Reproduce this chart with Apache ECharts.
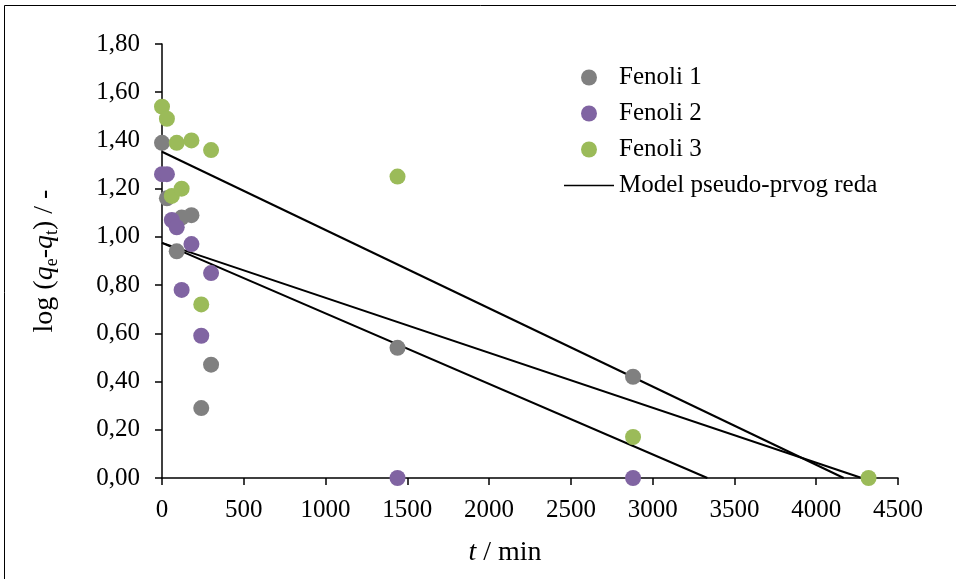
<!DOCTYPE html>
<html>
<head>
<meta charset="utf-8">
<script src="https://cdn.jsdelivr.net/npm/echarts@6/dist/echarts.min.js"></script>
<style>
  html, body { margin: 0; padding: 0; background: #fff; }
  #chart { width: 956px; height: 579px; }
</style>
</head>
<body>
<div id="chart"></div>
<script>
// Sampling times, min
const times = [0, 30, 60, 90, 120, 180, 240, 300, 1440, 2880, 4320];

// log(qe - qt) for each phenol sample (null = not measured)
const fenoli1 = [1.39, 1.16, null, 0.94, 1.08, 1.09, 0.29, 0.47, 0.54, 0.42, null];
const fenoli2 = [1.26, 1.26, 1.07, 1.04, 0.78, 0.97, 0.59, 0.85, 0.00, 0.00, null];
const fenoli3 = [1.54, 1.49, 1.17, 1.39, 1.20, 1.40, 0.72, 1.36, 1.25, 0.17, 0.00];

// Pseudo-first-order fits: log(qe - qt) = b + k*t
const modelIntercept = [1.353, 0.975, 0.975];
const modelSlope = [-3.246e-4, -2.279e-4, -2.924e-4];

const seriesNames = ['Fenoli 1', 'Fenoli 2', 'Fenoli 3'];
const modelName = 'Model pseudo-prvog reda';
const colors = ['#808080', '#8064a2', '#9bbb59'];

const xTicks = { min: 0, max: 4500, step: 500 };
const yTicks = { min: 0, max: 1.8, step: 0.2 };

const FONT = '"Liberation Serif", "DejaVu Serif", serif';

// Legend glyph for the fitted lines: a thin horizontal bar; the two bare
// move-to points keep the bar's box the full icon height so it is not stretched.
const LINE_ICON = 'path://M0,0 M0,16 M0,7.2 L50,7.2 L50,8.8 L0,8.8 Z';

function pairs(values) {
  const out = [];
  values.forEach((v, i) => { if (v !== null) out.push([times[i], v]); });
  return out;
}

const scatterSeries = [fenoli1, fenoli2, fenoli3].map((vals, i) => ({
  name: seriesNames[i],
  type: 'scatter',
  data: pairs(vals),
  symbol: 'circle',
  symbolSize: 16,
  itemStyle: { color: colors[i], opacity: 1 },
  z: 3
}));

// Each fitted line runs from t = 0 down to where it reaches zero
const modelSeries = modelIntercept.map((b, i) => ({
  name: modelName,
  type: 'line',
  data: [[0, b], [-b / modelSlope[i], 0]],
  symbol: 'none',
  showSymbol: false,
  lineStyle: { color: '#000', width: 2 },
  itemStyle: { color: '#000' },
  z: 2
}));

const chart = echarts.init(document.getElementById('chart'), null, { renderer: 'canvas' });
chart.setOption({
  animation: false,
  backgroundColor: '#fff',
  textStyle: { fontFamily: FONT },
  grid: { left: 162, right: 58, top: 44, bottom: 101, containLabel: false },
  graphic: [
    { type: 'polyline', shape: { points: [[4.5, 579], [4.5, 5.5], [956, 5.5]] },
      style: { stroke: '#000', lineWidth: 1, fill: null }, silent: true }
  ],
  legend: {
    orient: 'vertical',
    left: 559,
    top: 60,
    itemWidth: 50,
    itemHeight: 16,
    itemGap: 11,
    itemTextGap: 19,
    itemStyle: { borderWidth: 0 },
    textStyle: { fontFamily: FONT, fontSize: 25, color: '#000' },
    data: [
      { name: seriesNames[0], icon: 'circle' },
      { name: seriesNames[1], icon: 'circle' },
      { name: seriesNames[2], icon: 'circle' },
      { name: modelName, icon: LINE_ICON, itemStyle: { color: '#000' } }
    ]
  },
  xAxis: {
    type: 'value',
    min: xTicks.min, max: xTicks.max, interval: xTicks.step,
    splitLine: { show: false },
    axisLine: { show: true, onZero: false, lineStyle: { color: '#000', width: 1.5 } },
    axisTick: { show: true, inside: false, length: 7, lineStyle: { color: '#000', width: 1.5 } },
    axisLabel: {
      color: '#000', fontSize: 25, fontFamily: FONT, margin: 20,
      formatter: v => String(v)
    },
    name: '{i|t} / min',
    nameLocation: 'middle',
    nameGap: 61,
    nameTextStyle: {
      color: '#000', fontSize: 28, fontFamily: FONT, padding: [0, 50, 0, 0],
      rich: { i: { fontStyle: 'italic', fontSize: 28, fontFamily: FONT, color: '#000' } }
    }
  },
  yAxis: {
    type: 'value',
    min: yTicks.min, max: yTicks.max, interval: yTicks.step,
    splitLine: { show: false },
    axisLine: { show: true, onZero: false, lineStyle: { color: '#000', width: 1.5 } },
    axisTick: { show: true, inside: false, length: 7, lineStyle: { color: '#000', width: 1.5 } },
    axisLabel: {
      color: '#000', fontSize: 25, fontFamily: FONT, margin: 22,
      formatter: v => v.toFixed(2).replace('.', ',')
    },
    name: 'log ({i|q}{s|e}-{i|q}{s|t}) / -',
    nameLocation: 'middle',
    nameRotate: 90,
    nameGap: 101,
    nameTextStyle: {
      color: '#000', fontSize: 28, fontFamily: FONT, lineHeight: 32,
      rich: {
        i: { fontStyle: 'italic', fontSize: 28, fontFamily: FONT, color: '#000', lineHeight: 32 },
        s: { fontSize: 18, fontFamily: FONT, color: '#000', verticalAlign: 'bottom', lineHeight: 24, padding: [10, 0, 0, 0] }
      }
    }
  },
  series: [...scatterSeries, ...modelSeries]
});
</script>
</body>
</html>
